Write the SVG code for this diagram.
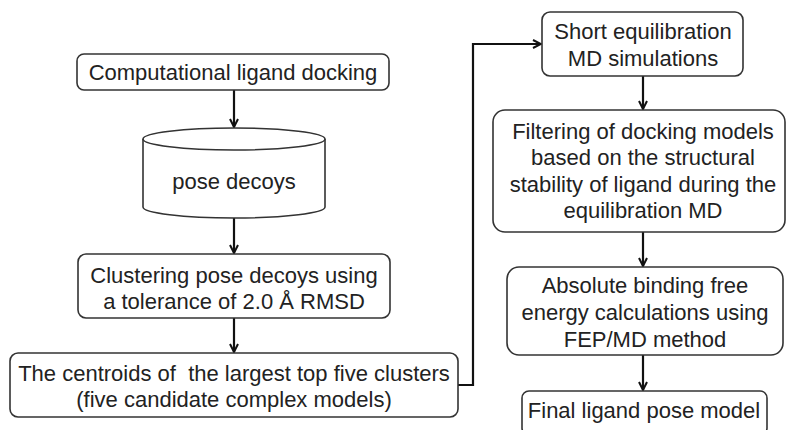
<svg xmlns="http://www.w3.org/2000/svg" width="787" height="430" viewBox="0 0 787 430">
<style>
.box{fill:#fff;stroke:#333;stroke-width:1.6}
.t{font-family:"Liberation Sans",Arial,sans-serif;font-size:22px;fill:#222;text-anchor:middle;white-space:pre}
.c{fill:none;stroke:#111;stroke-width:2.2}
</style>
<defs>
<marker id="ah" viewBox="0 0 10 10" refX="9" refY="5" markerWidth="10" markerHeight="10" markerUnits="userSpaceOnUse" orient="auto">
<path d="M1,1 L9,5 L1,9" fill="none" stroke="#111" stroke-width="2"/>
</marker>
</defs>
<rect width="787" height="430" fill="#fff"/>
<g id="connectors">
<line class="c" x1="234" y1="90" x2="234" y2="127" marker-end="url(#ah)"/>
<line class="c" x1="234" y1="218" x2="234" y2="253" marker-end="url(#ah)"/>
<line class="c" x1="234" y1="318" x2="234" y2="352" marker-end="url(#ah)"/>
<polyline class="c" points="458,385 473,385 473,44 541,44" marker-end="url(#ah)"/>
<line class="c" x1="643" y1="76" x2="643" y2="109" marker-end="url(#ah)"/>
<line class="c" x1="643" y1="232" x2="643" y2="266" marker-end="url(#ah)"/>
<line class="c" x1="643" y1="355" x2="643" y2="390" marker-end="url(#ah)"/>
</g>
<g id="docking">
<rect class="box" x="77" y="54" width="312" height="36" rx="7"/>
<text class="t" x="233" y="80">Computational ligand docking</text>
</g>
<g id="decoys">
<path class="box" d="M143,139 L143,207 A91,11 0 0 0 325,207 L325,139"/>
<ellipse class="box" cx="234" cy="139" rx="91" ry="11"/>
<text class="t" x="234" y="189">pose decoys</text>
</g>
<g id="clustering">
<rect class="box" x="78" y="254" width="312" height="64" rx="8"/>
<text class="t" x="234" y="283">Clustering pose decoys using</text>
<text class="t" x="234" y="309">a tolerance of 2.0 Å RMSD</text>
</g>
<g id="centroids">
<rect class="box" x="10" y="353" width="448" height="64" rx="8"/>
<text class="t" x="234" y="381">The centroids of  the largest top five clusters</text>
<text class="t" x="234" y="407">(five candidate complex models)</text>
</g>
<g id="equilibration">
<rect class="box" x="542" y="12" width="201" height="64" rx="8"/>
<text class="t" x="643" y="39">Short equilibration</text>
<text class="t" x="643" y="66">MD simulations</text>
</g>
<g id="filtering">
<rect class="box" x="493" y="110" width="292" height="122" rx="12"/>
<text class="t" x="643" y="139">Filtering of docking models</text>
<text class="t" x="643" y="165">based on the structural</text>
<text class="t" x="643" y="192">stability of ligand during the</text>
<text class="t" x="643" y="218">equilibration MD</text>
</g>
<g id="fep">
<rect class="box" x="507" y="267" width="276" height="88" rx="12"/>
<text class="t" x="645" y="293">Absolute binding free</text>
<text class="t" x="645" y="320">energy calculations using</text>
<text class="t" x="645" y="347">FEP/MD method</text>
</g>
<g id="final">
<rect class="box" x="522" y="391" width="245" height="44" rx="7"/>
<text class="t" x="644" y="418">Final ligand pose model</text>
</g>
</svg>
